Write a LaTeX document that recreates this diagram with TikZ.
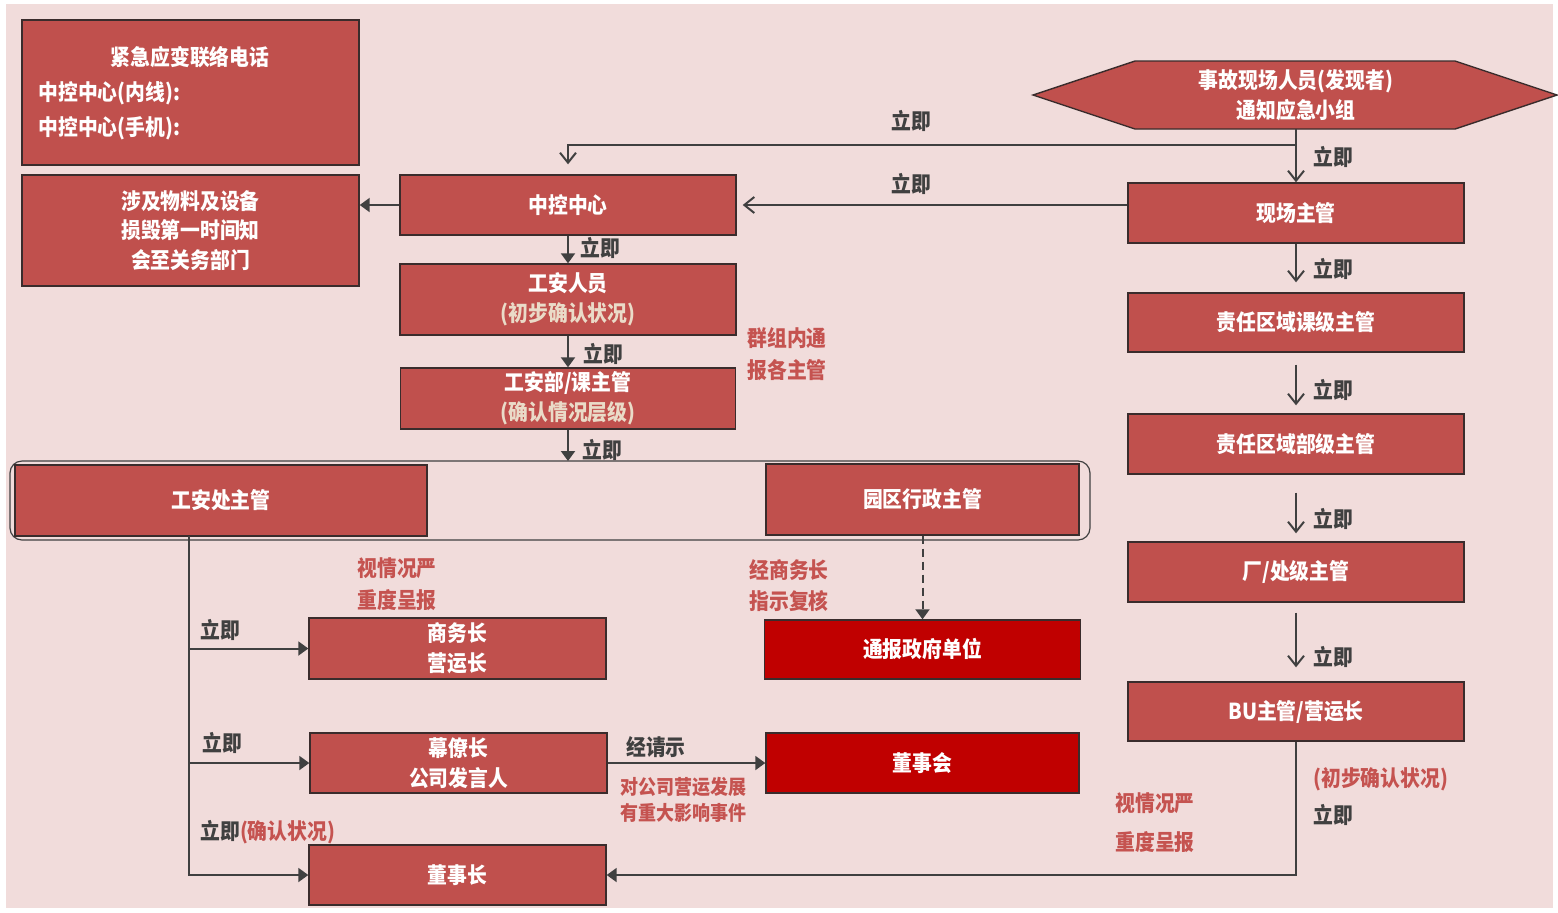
\documentclass[tikz,border=0pt]{standalone}
\usepackage{fontspec}
\setmainfont{Noto Sans CJK SC}[FakeStretch=0.9]
\usepackage{tikz}
\usetikzlibrary{arrows.meta,positioning,calc}
\definecolor{paper}{HTML}{F1DCDB}
\definecolor{boxred}{HTML}{C0504D}
\definecolor{deepred}{HTML}{C00000}
\definecolor{ink}{HTML}{404040}
\definecolor{edge}{HTML}{3A2C2C}
\definecolor{notered}{HTML}{C55350}
\definecolor{paletext}{HTML}{EADBC8}
\tikzset{
  flowbox/.style={draw=edge,fill=boxred,line width=0.7pt,text=white,
                  align=center,inner sep=0pt,
                  font=\fontsize{11}{15}\selectfont\bfseries},
  alertbox/.style={flowbox,fill=deepred},
  boxtext/.style={text=white,align=center,inner sep=0pt,
                  font=\fontsize{11}{15}\selectfont\bfseries},
  steplbl/.style={text=ink,inner sep=0pt,font=\fontsize{11}{15}\selectfont\bfseries},
  notelbl/.style={text=notered,align=center,inner sep=0pt,
                  font=\fontsize{11}{16}\selectfont\bfseries},
  groupframe/.style={draw=ink,line width=0.6pt,rounded corners=6pt},
  openarr/.style={-{Straight Barb[length=5pt,width=8pt]},line width=1pt,color=ink},
  flowarr/.style={-{Triangle[length=5pt,width=7pt]},line width=1pt,color=ink}
}
\begin{document}
\begin{tikzpicture}[x=0.5pt,y=-0.5pt]
  \fill[white] (0,0) rectangle (1558,912);
  \fill[paper] (6,4) rectangle (1553,908);

  % left column
  \node[flowbox,minimum width=168.5pt,minimum height=72.5pt] (contact) at (190.5,92.5) {};
  \node[boxtext] (contacttitle) at (190,57) {紧急应变联络电话};
  \node[boxtext,anchor=west] (contactin) at (38,93) {中控中心(内线):};
  \node[boxtext,anchor=west] (contactmob) at (38,128) {中控中心(手机):};
  \node[flowbox,minimum width=168.5pt,minimum height=55.5pt,
        font=\fontsize{11}{14.75}\selectfont\bfseries] (material) at (190.5,230.5)
        {涉及物料及设备\\损毁第一时间知\\会至关务部门};

  % middle column
  \node[flowbox,minimum width=168pt,minimum height=30pt] (center) at (568,205) {中控中心};
  \node[flowbox,minimum width=168pt,minimum height=35.5pt] (worker) at (568,299.5)
        {工安人员\\\textcolor{paletext}{(初步确认状况)}};
  \node[flowbox,minimum width=167.5pt,minimum height=30.5pt] (dept) at (568,398.5)
        {工安部/课主管\\\textcolor{paletext}{(确认情况层级)}};

  \draw[groupframe] (10,461) rectangle (1090,540);
  \coordinate (group) at (568,461);
  \node[flowbox,minimum width=206pt,minimum height=35.5pt] (safety) at (221,500.5) {工安处主管};
  \node[flowbox,minimum width=156.5pt,minimum height=35.5pt] (park) at (922.5,499.5) {园区行政主管};

  \node[alertbox,minimum width=158pt,minimum height=29.5pt] (gov) at (922.5,649.5) {通报政府单位};
  \node[flowbox,minimum width=148.5pt,minimum height=30.5pt] (business) at (457.5,648.5) {商务长\\营运长};
  \node[flowbox,minimum width=148.5pt,minimum height=30pt] (pr) at (458.5,763) {幕僚长\\公司发言人};
  \node[alertbox,minimum width=156.5pt,minimum height=30pt] (board) at (922.5,763) {董事会};
  \node[flowbox,minimum width=148.5pt,minimum height=30pt] (chairman) at (457.5,875) {董事长};

  % right column
  \draw[draw=edge,fill=boxred,line width=0.7pt]
    (1033,95) -- (1135,61) -- (1455,61) -- (1557,95) -- (1455,129) -- (1135,129) -- cycle;
  \node[boxtext,minimum height=34pt] (finder) at (1296,95) {事故现场人员(发现者)\\通知应急小组};
  \node[flowbox,minimum width=168pt,minimum height=30pt] (site) at (1296,213) {现场主管};
  \node[flowbox,minimum width=168pt,minimum height=29.5pt] (sect) at (1296,322.5) {责任区域课级主管};
  \node[flowbox,minimum width=168pt,minimum height=30pt] (dept2) at (1296,444) {责任区域部级主管};
  \node[flowbox,minimum width=168pt,minimum height=30pt] (plant) at (1296,572) {厂/处级主管};
  \node[flowbox,minimum width=168pt,minimum height=29.5pt] (bu) at (1296,711.5) {BU主管/营运长};

  % connectors
  \coordinate (split) at (1296,145);
  \draw[openarr] (finder.south) -- (site.north);
  \draw[openarr,shorten >=5pt] (split) -| (center.north);
  \draw[openarr,shorten >=3pt] (center.east -| site.west) -- (center.east);
  \draw[flowarr] (center.west) -- (center.west -| material.east);
  \draw[flowarr] (center.south) -- (worker.north);
  \draw[flowarr] (worker.south) -- (dept.north);
  \draw[flowarr] (dept.south) -- (group);

  \draw[openarr,shorten >=5pt] (site.south) -- (sect.north);
  \draw[openarr,shorten <=6pt,shorten >=4pt] (sect.south) -- (dept2.north);
  \draw[openarr,shorten <=9pt,shorten >=4pt] (dept2.south) -- (plant.north);
  \draw[openarr,shorten <=5pt,shorten >=7pt] (plant.south) -- (bu.north);
  \draw[flowarr] (bu.south) |- (chairman.east);

  \coordinate (trunk) at (189,536);
  \draw[flowarr] (trunk) |- (chairman.west);
  \draw[flowarr] (trunk |- business.west) -- (business.west);
  \draw[flowarr] (trunk |- pr.west) -- (pr.west);
  \draw[flowarr,dash pattern=on 4pt off 2.5pt] (park.south) -- (park.south |- gov.north);
  \draw[flowarr] (pr.east) -- (board.west);

  % labels
  \node[steplbl] (l1) at (1333,157) {立即};
  \node[steplbl] (l2) at (911,121) {立即};
  \node[steplbl] (l3) at (911,184) {立即};
  \node[steplbl] (l4) at (600,248) {立即};
  \node[steplbl] (l5) at (603,354) {立即};
  \node[steplbl] (l6) at (602,450) {立即};
  \node[steplbl] (l7) at (1333,269) {立即};
  \node[steplbl] (l8) at (1333,390) {立即};
  \node[steplbl] (l9) at (1333,519) {立即};
  \node[steplbl] (l10) at (1333,657) {立即};
  \node[notelbl,anchor=west] (buwhy) at (1313,779) {(初步确认状况)};
  \node[steplbl,anchor=west] (l11) at (1313,815) {立即};
  \node[notelbl,font=\fontsize{11}{19.5}\selectfont\bfseries] (buserious) at (1155,822.5) {视情况严\\重度呈报};
  \node[notelbl] (groupnote) at (787,354) {群组内通\\报各主管};
  \node[notelbl] (serious) at (397,584) {视情况严\\重度呈报};
  \node[notelbl,font=\fontsize{11}{15.5}\selectfont\bfseries] (review) at (789,585.5) {经商务长\\指示复核};
  \node[steplbl] (l12) at (220,630) {立即};
  \node[steplbl] (l13) at (222,743) {立即};
  \node[steplbl,anchor=west] (l14) at (200,832) {立即\textcolor{notered}{(确认状况)}};
  \node[steplbl] (askfirst) at (656,747) {经请示};
  \node[notelbl,font=\fontsize{10}{13}\selectfont\bfseries] (impact) at (683,800) {对公司营运发展\\有重大影响事件};
\end{tikzpicture}
\end{document}
